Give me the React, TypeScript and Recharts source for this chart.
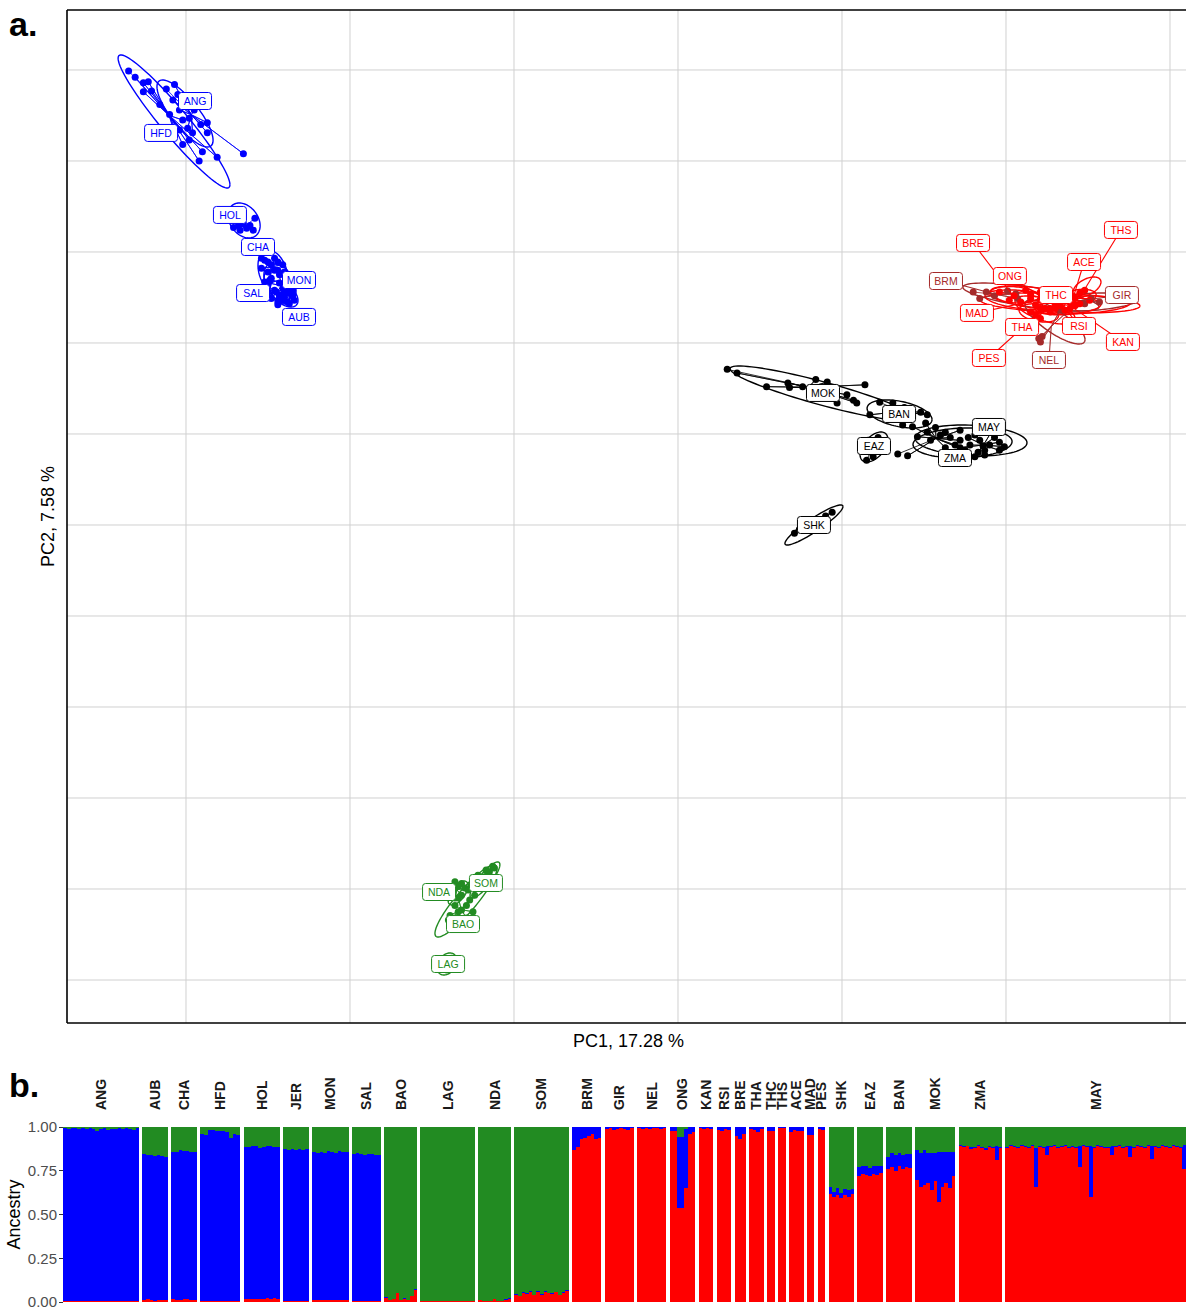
import React from 'react';
import {
  ScatterChart, Scatter, XAxis, YAxis, ReferenceLine,
  BarChart, Bar, ReferenceArea,
} from 'recharts';

const FONT = '"Liberation Sans", Arial, Helvetica, sans-serif';
const BLUE = '#0000FF';
const GREEN = '#228B22';
const BLACK = '#000000';
const RED = '#FF0000';
const BROWN = '#A52A2A';

// ---------------- PCA (panel a) : scores in grid units ----------------
const X_TICKS = [0, 1, 2, 3, 4, 5, 6];
const Y_TICKS = [0, 1, 2, 3, 4, 5, 6, 7, 8, 9, 10];
const X_DOMAIN = [-0.7256, 6.122];
const Y_DOMAIN = [-0.4725, 10.659];

const ANG_pc = [[-0.12, 9.79], [-0.07, 9.84], [-0.08, 9.67], [-0.04, 9.56], [0.02, 9.47], [0.13, 9.42], [0.13, 9.31], [0.04, 9.31], [0.35, 9.08], [-0.01, 9.62], [0.05, 9.56], [0.09, 9.40], [-0.05, 9.73], [0.01, 9.36]];
const HFD_pc = [[-0.35, 9.99], [-0.31, 9.92], [-0.26, 9.86], [-0.23, 9.87], [-0.26, 9.76], [-0.21, 9.77], [-0.02, 9.45], [-0.08, 9.37], [0.10, 9.10], [0.19, 9.04], [0.08, 9.00], [-0.02, 9.18], [-0.04, 9.34], [0.02, 9.23], [-0.10, 9.51], [-0.16, 9.62]];
const HOL_pc = [[0.42, 8.37], [0.29, 8.27], [0.33, 8.24], [0.37, 8.26], [0.41, 8.24], [0.35, 8.31], [0.32, 8.29], [0.39, 8.29]];
const CHA_pc = [[0.48, 7.91], [0.52, 7.86], [0.56, 7.89], [0.50, 7.78], [0.54, 7.80], [0.57, 7.75], [0.51, 7.69], [0.46, 7.82], [0.46, 7.93], [0.50, 7.89], [0.54, 7.93], [0.59, 7.86], [0.60, 7.78]];
const MON_pc = [[0.52, 7.71], [0.57, 7.66], [0.62, 7.60], [0.55, 7.56], [0.60, 7.52], [0.63, 7.69], [0.56, 7.80], [0.48, 7.67], [0.65, 7.58], [0.66, 7.64], [0.59, 7.47]];
const SAL_pc = [[0.50, 7.64], [0.54, 7.58], [0.57, 7.53], [0.52, 7.49], [0.59, 7.60], [0.49, 7.53], [0.56, 7.45], [0.62, 7.55]];
const AUB_pc = [[0.57, 7.49], [0.62, 7.45], [0.65, 7.52], [0.60, 7.58], [0.63, 7.43], [0.56, 7.42], [0.66, 7.47], [0.61, 7.64]];
const NDA_pc = [[1.62, 0.99], [1.66, 1.03], [1.68, 0.93], [1.64, 0.90], [1.70, 1.01], [1.64, 1.08], [1.68, 1.06], [1.60, 0.92]];
const SOM_pc = [[1.78, 1.15], [1.83, 1.21], [1.87, 1.25], [1.74, 1.04], [1.80, 1.10], [1.72, 0.99], [1.85, 1.19], [1.88, 1.23], [1.82, 1.13]];
const BAO_pc = [[1.64, 0.82], [1.68, 0.77], [1.73, 0.88], [1.61, 0.71], [1.71, 0.68], [1.76, 0.93], [1.66, 0.90], [1.60, 0.66], [1.66, 0.75], [1.71, 0.82], [1.75, 0.75], [1.64, 0.60]];
const LAG_pc = [[1.57, 0.22], [1.61, 0.16], [1.59, 0.11], [1.62, 0.24], [1.56, 0.15], [1.64, 0.20]];
const MOK_pc = [[3.30, 6.71], [3.36, 6.67], [3.54, 6.52], [3.67, 6.56], [3.68, 6.51], [3.84, 6.60], [3.91, 6.57], [3.76, 6.52], [3.97, 6.34], [4.03, 6.43], [4.07, 6.37], [4.14, 6.54], [4.09, 6.34]];
const BAN_pc = [[4.23, 6.35], [4.31, 6.34], [4.48, 6.24], [4.52, 6.21], [4.17, 6.21], [4.37, 6.10], [4.38, 6.29]];
const EAZ_pc = [[4.15, 5.71], [4.19, 5.75], [4.16, 5.93], [4.22, 5.96], [4.18, 5.80]];
const ZMA_pc = [[4.34, 5.78], [4.40, 5.76], [4.51, 6.12], [4.57, 6.07], [4.60, 5.99], [4.54, 5.93], [4.66, 5.96], [4.72, 5.93], [4.69, 5.88], [4.63, 5.85], [4.46, 5.97], [4.43, 6.08], [4.52, 6.02], [4.75, 5.82], [4.63, 6.02], [4.72, 6.04]];
const MAY_pc = [[4.78, 5.88], [4.84, 5.93], [4.90, 5.88], [4.87, 5.82], [4.81, 5.99], [4.93, 5.96], [4.96, 5.91], [4.72, 5.85], [4.83, 5.80], [4.91, 6.02], [4.99, 5.86], [4.77, 5.96], [4.86, 5.87], [4.87, 5.77], [4.81, 5.75], [4.96, 5.82]];
const SHK_pc = [[3.71, 4.91], [3.94, 5.14], [3.74, 4.95], [3.90, 5.10], [3.80, 5.01]];
const BRM_pc = [[4.80, 7.56], [4.84, 7.49], [4.88, 7.56], [5.01, 7.57], [5.06, 7.54], [5.07, 7.49], [4.93, 7.52]];
const NEL_pc = [[5.20, 7.05], [5.22, 7.07], [5.21, 7.01], [5.33, 7.36], [5.42, 7.42]];
const GIR_pc = [[5.39, 7.47], [5.48, 7.43], [5.57, 7.45], [5.33, 7.49], [5.52, 7.49]];
const BRE_pc = [[4.96, 7.56], [5.05, 7.52], [5.12, 7.58], [5.02, 7.47]];
const ONG_pc = [[5.15, 7.53], [5.24, 7.47], [5.21, 7.56], [5.30, 7.42]];
const ACE_pc = [[5.36, 7.53], [5.42, 7.49], [5.48, 7.58], [5.39, 7.45]];
const THS_pc = [[5.39, 7.49], [5.45, 7.55], [5.51, 7.47]];
const THC_pc = [[5.21, 7.47], [5.30, 7.44], [5.36, 7.49], [5.27, 7.38], [5.42, 7.42]];
const MAD_pc = [[5.09, 7.45], [5.18, 7.42], [5.15, 7.49]];
const THA_pc = [[5.21, 7.38], [5.27, 7.34], [5.18, 7.31], [5.33, 7.41]];
const RSI_pc = [[5.30, 7.38], [5.36, 7.36], [5.42, 7.41]];
const KAN_pc = [[5.33, 7.42], [5.39, 7.38], [5.45, 7.43]];
const PES_pc = [[5.15, 7.34], [5.21, 7.27], [5.24, 7.38]];

// ellipse summaries: centre, half-extent in x / y, correlation
const ELL_NAMES = ['HFD', 'ANG', 'HOL', 'CHA', 'MON', 'SAL', 'AUB', 'NDA', 'SOM', 'BAO', 'LAG', 'MOK', 'BAN', 'EAZ', 'ZMA', 'MAY', 'SHK', 'BRM', 'GIR', 'THC', 'ACE', 'ONG', 'THA', 'KAN', 'MAD', 'NEL', 'RSI', 'PES', 'BRE', 'THS'];
const ELL_CX = [-0.073, -0.006, 0.354, 0.530, 0.573, 0.555, 0.598, 1.659, 1.823, 1.707, 1.591, 3.881, 4.351, 4.195, 4.735, 4.787, 3.829, 5.152, 5.512, 5.329, 5.494, 5.177, 5.238, 5.421, 5.116, 5.299, 5.38, 5.20, 5.05, 5.45];
const ELL_CY = [9.434, 9.522, 8.346, 7.780, 7.659, 7.615, 7.538, 0.956, 1.099, 0.868, 0.176, 6.445, 6.220, 5.857, 5.901, 5.929, 5.000, 7.505, 7.451, 7.440, 7.615, 7.495, 7.363, 7.418, 7.473, 7.231, 7.40, 7.33, 7.53, 7.51];
const ELL_SX = [0.341, 0.171, 0.098, 0.091, 0.098, 0.079, 0.085, 0.061, 0.091, 0.189, 0.061, 0.564, 0.198, 0.085, 0.302, 0.341, 0.177, 0.415, 0.293, 0.488, 0.085, 0.274, 0.183, 0.335, 0.244, 0.183, 0.20, 0.12, 0.15, 0.10];
const ELL_SY = [0.731, 0.368, 0.192, 0.242, 0.220, 0.187, 0.143, 0.132, 0.198, 0.396, 0.121, 0.302, 0.154, 0.165, 0.165, 0.170, 0.220, 0.154, 0.099, 0.110, 0.110, 0.132, 0.154, 0.099, 0.110, 0.242, 0.09, 0.10, 0.09, 0.08];
const ELL_RHO = [-0.95, -0.8, -0.3, -0.3, -0.4, -0.5, -0.5, 0.6, 0.85, 0.9, 0.3, -0.9, -0.4, 0.5, 0.1, -0.15, 0.92, -0.7, 0.3, -0.3, 0.5, -0.5, -0.6, 0.2, -0.4, -0.8, 0.3, -0.3, -0.2, 0.2];

// repelled label positions (grid units)
const LABEL_NAMES = ['ANG', 'HFD', 'HOL', 'CHA', 'MON', 'SAL', 'AUB', 'NDA', 'SOM', 'BAO', 'LAG', 'MOK', 'BAN', 'EAZ', 'MAY', 'ZMA', 'SHK', 'BRE', 'BRM', 'ONG', 'ACE', 'THS', 'THC', 'GIR', 'MAD', 'THA', 'RSI', 'KAN', 'PES', 'NEL'];
const LABEL_X = [0.055, -0.152, 0.268, 0.439, 0.689, 0.409, 0.689, 1.543, 1.829, 1.689, 1.598, 3.884, 4.348, 4.195, 4.896, 4.689, 3.829, 4.799, 4.634, 5.024, 5.476, 5.701, 5.305, 5.707, 4.823, 5.098, 5.445, 5.713, 4.896, 5.262];
const LABEL_Y = [9.659, 9.308, 8.407, 8.055, 7.692, 7.549, 7.286, 0.967, 1.066, 0.615, 0.176, 6.451, 6.220, 5.868, 6.077, 5.736, 5.000, 8.099, 7.681, 7.736, 7.890, 8.242, 7.527, 7.527, 7.330, 7.176, 7.187, 7.011, 6.835, 6.813];

const pcaGroups = [
  { name: 'ANG', color: BLUE, pts: ANG_pc, leader: false },
  { name: 'HFD', color: BLUE, pts: HFD_pc, leader: false },
  { name: 'HOL', color: BLUE, pts: HOL_pc, leader: false },
  { name: 'CHA', color: BLUE, pts: CHA_pc, leader: false },
  { name: 'MON', color: BLUE, pts: MON_pc, leader: false },
  { name: 'SAL', color: BLUE, pts: SAL_pc, leader: false },
  { name: 'AUB', color: BLUE, pts: AUB_pc, leader: false },
  { name: 'NDA', color: GREEN, pts: NDA_pc, leader: false },
  { name: 'SOM', color: GREEN, pts: SOM_pc, leader: false },
  { name: 'BAO', color: GREEN, pts: BAO_pc, leader: false },
  { name: 'LAG', color: GREEN, pts: LAG_pc, leader: false },
  { name: 'MOK', color: BLACK, pts: MOK_pc, leader: false },
  { name: 'BAN', color: BLACK, pts: BAN_pc, leader: false },
  { name: 'EAZ', color: BLACK, pts: EAZ_pc, leader: false },
  { name: 'ZMA', color: BLACK, pts: ZMA_pc, leader: false },
  { name: 'MAY', color: BLACK, pts: MAY_pc, leader: false },
  { name: 'SHK', color: BLACK, pts: SHK_pc, leader: false },
  { name: 'BRM', color: BROWN, pts: BRM_pc, leader: true },
  { name: 'NEL', color: BROWN, pts: NEL_pc, leader: true },
  { name: 'GIR', color: BROWN, pts: GIR_pc, leader: true },
  { name: 'BRE', color: RED, pts: BRE_pc, leader: true },
  { name: 'ONG', color: RED, pts: ONG_pc, leader: true },
  { name: 'ACE', color: RED, pts: ACE_pc, leader: true },
  { name: 'THS', color: RED, pts: THS_pc, leader: true },
  { name: 'THC', color: RED, pts: THC_pc, leader: true },
  { name: 'MAD', color: RED, pts: MAD_pc, leader: true },
  { name: 'THA', color: RED, pts: THA_pc, leader: true },
  { name: 'RSI', color: RED, pts: RSI_pc, leader: true },
  { name: 'KAN', color: RED, pts: KAN_pc, leader: true },
  { name: 'PES', color: RED, pts: PES_pc, leader: true },
];

// ---------------- ADMIXTURE (panel b), % per individual ----------------
const ANG_red = [0.5, 0.5, 0.5, 0.5, 0.5, 0.5, 0.5, 0.5, 0.5, 0.5, 0.5, 0.5, 0.5, 0.5, 0.5, 0.5, 0.5, 0.5, 0.5, 0.5, 0.5];
const ANG_blue = [99, 98.5, 99, 99, 98.5, 99, 98.5, 99, 98.5, 97.5, 98.5, 99, 98, 98.5, 98.5, 99, 98.5, 99, 98.5, 98, 99];
const AUB_red = [1, 1.5, 1, 0.5, 1, 1, 1];
const AUB_blue = [83.5, 82.5, 83, 83, 83, 82.5, 82];
const CHA_red = [1.5, 1, 1, 2, 1.5, 1, 1];
const CHA_blue = [84.5, 85, 86, 84.5, 85, 85, 84.5];
const HFD_red = [0.5, 0.5, 0.5, 0.5, 0.5, 0.5, 0.5, 0.5, 0.5, 0.5, 0.5];
const HFD_blue = [95.5, 95, 98, 98, 97.5, 97, 97, 96.5, 93.5, 95.5, 95];
const HOL_red = [1.5, 2, 2, 1.5, 2, 1.5, 2.5, 2, 2.5, 1.5];
const HOL_blue = [87, 86.5, 87, 87.5, 86, 87, 86.5, 87, 86, 87];
const JER_red = [0.5, 0.5, 0.5, 0.5, 0.5, 0.5, 0.5];
const JER_blue = [87, 86.5, 87, 86.5, 87, 86.5, 87];
const MON_red = [1, 1, 1, 1, 1, 1, 1, 1, 1, 1];
const MON_blue = [84.5, 84, 85, 84, 85.5, 84.5, 84, 85.5, 85, 84.5];
const SAL_red = [0.5, 0.5, 0.5, 0.5, 0.5, 0.5, 0.5, 0.5];
const SAL_blue = [84, 84.5, 84, 83.5, 84, 84, 83.5, 83.5];
const BAO_red = [2.5, 1, 1.5, 5, 1, 2, 1, 3.5, 7];
const BAO_blue = [0.5, 0, 0.5, 0, 0, 0.5, 0, 0, 0.3];
const LAG_red = [0.5, 0.5, 0.5, 0.5, 0.5, 0.5, 0.5, 0.5, 0.5, 0.5, 0.5, 0.5, 0.5, 0.5, 0.5];
const LAG_blue = [0, 0, 0, 0, 0, 0, 0, 0, 0, 0, 0, 0, 0, 0, 0];
const NDA_red = [1, 0.5, 0.5, 0.5, 1.5, 0.5, 0.5, 1, 2];
const NDA_blue = [0, 0, 0, 0, 0.5, 0, 0, 0.5, 0.5];
const SOM_red = [4, 3.5, 5, 4.5, 6, 4, 5.5, 4, 6, 5, 4.5, 5.5, 4, 5, 6.5];
const SOM_blue = [0.5, 0, 0.5, 0.5, 0.5, 0, 1, 0.5, 0.5, 0, 0.5, 0.5, 0, 0.5, 0.5];
const BRM_red = [87, 88.5, 93, 94, 95, 96, 93, 94];
const BRM_blue = [13, 11.5, 7, 6, 5, 4, 7, 6];
const GIR_red = [99, 99.5, 98.5, 99, 99.5, 99, 98.5, 99.5];
const GIR_blue = [1, 0.5, 1.5, 1, 0.5, 1, 1.5, 0.5];
const NEL_red = [99.5, 99, 99.5, 99, 99.5, 99.5, 99, 99.5];
const NEL_blue = [0.5, 1, 0.5, 1, 0.5, 0.5, 1, 0.5];
const ONG_red = [98, 97.5, 53.8, 53.8, 65, 96, 97];
const ONG_blue = [2, 2.5, 40.5, 40.5, 34, 4, 3];
const KAN_red = [99.5, 99, 99.5, 99];
const KAN_blue = [0.5, 1, 0.5, 1];
const RSI_red = [98.5, 98, 99, 98.5];
const RSI_blue = [1.5, 2, 1, 1.5];
const BRE_red = [95, 93, 96];
const BRE_blue = [5, 7, 4];
const THA_red = [99, 98.5, 97, 99];
const THA_blue = [1, 1.5, 3, 1];
const THC_red = [98, 97.5];
const THC_blue = [2, 2.5];
const THS_red = [99.5, 99.5];
const THS_blue = [0.5, 0.5];
const ACE_red = [97, 98.5, 97.5, 98];
const ACE_blue = [3, 1.5, 2.5, 2];
const MAD_red = [95.5, 95.5];
const MAD_blue = [4.5, 4.5];
const PES_red = [99, 98.5];
const PES_blue = [1, 1.5];
const SHK_red = [62, 60, 61, 59.5, 61, 60, 62];
const SHK_blue = [3.5, 3, 4, 3, 3.5, 4, 2.5];
const EAZ_red = [72, 73, 72.5, 72, 73, 72.5, 73.5];
const EAZ_blue = [5, 4.5, 5.5, 4.5, 5, 5, 4];
const BAN_red = [76, 77, 75, 78, 76, 77, 76.5];
const BAN_blue = [7, 8, 9, 7, 8, 7.5, 8];
const MOK_red = [70, 66, 67, 68, 64, 69, 57, 66, 68, 65, 72];
const MOK_blue = [17, 19, 20, 17, 21, 16, 29, 20, 18, 21, 14];
const ZMA_red = [89, 88.5, 89, 87.5, 88, 89, 88, 87, 88.5, 88, 81, 88];
const ZMA_blue = [0.5, 0.5, 0.3, 1, 0.5, 0.5, 0.5, 1, 0.5, 0.5, 8, 0.5];
const MAY_red = [88, 89, 88.5, 88, 89, 88.5, 88, 89, 66, 88.5, 88, 84, 88.5, 89, 88, 88.5, 89, 88, 88.5, 88, 77, 89, 88.5, 60, 88, 89, 88.5, 88, 88, 84, 88.5, 89, 88, 88.5, 83, 88, 89, 88.5, 88, 89, 82, 88.5, 88, 89, 88.5, 88, 89, 88.5, 88, 76];
const MAY_blue = [0.5, 0.5, 0.5, 0.5, 0.5, 0.5, 0.5, 0.5, 22, 0.5, 0.5, 5, 0.5, 0.5, 0.5, 0.5, 0.5, 0.5, 0.5, 0.5, 12, 0.5, 0.5, 29, 0.5, 0.5, 0.5, 0.5, 0.5, 5, 0.5, 0.5, 0.5, 0.5, 6, 0.5, 0.5, 0.5, 0.5, 0.5, 7, 0.5, 0.5, 0.5, 0.5, 0.5, 0.5, 0.5, 0.5, 14];

const admixGroups: [string, number[], number[]][] = [
  ['ANG', ANG_red, ANG_blue], ['AUB', AUB_red, AUB_blue], ['CHA', CHA_red, CHA_blue],
  ['HFD', HFD_red, HFD_blue], ['HOL', HOL_red, HOL_blue], ['JER', JER_red, JER_blue],
  ['MON', MON_red, MON_blue], ['SAL', SAL_red, SAL_blue], ['BAO', BAO_red, BAO_blue],
  ['LAG', LAG_red, LAG_blue], ['NDA', NDA_red, NDA_blue], ['SOM', SOM_red, SOM_blue],
  ['BRM', BRM_red, BRM_blue], ['GIR', GIR_red, GIR_blue], ['NEL', NEL_red, NEL_blue],
  ['ONG', ONG_red, ONG_blue], ['KAN', KAN_red, KAN_blue], ['RSI', RSI_red, RSI_blue],
  ['BRE', BRE_red, BRE_blue], ['THA', THA_red, THA_blue], ['THC', THC_red, THC_blue],
  ['THS', THS_red, THS_blue], ['ACE', ACE_red, ACE_blue], ['MAD', MAD_red, MAD_blue],
  ['PES', PES_red, PES_blue], ['SHK', SHK_red, SHK_blue], ['EAZ', EAZ_red, EAZ_blue],
  ['BAN', BAN_red, BAN_blue], ['MOK', MOK_red, MOK_blue], ['ZMA', ZMA_red, ZMA_blue],
  ['MAY', MAY_red, MAY_blue],
];
const ANCESTRY_TICKS = [0, 0.25, 0.5, 0.75, 1];

// ---------------- derived tables ----------------
const toPts = (arr: number[][]) => arr.map(([x, y]) => ({ x, y }));
const centroid = (arr: number[][]) => ({
  x: arr.reduce((s, p) => s + p[0], 0) / arr.length,
  y: arr.reduce((s, p) => s + p[1], 0) / arr.length,
});
const colorOf = (name: string) => (pcaGroups.find((g) => g.name === name) || { color: BLACK }).color;

const ellipseOutline = (i: number) => {
  const out: { x: number; y: number }[] = [];
  const r = ELL_RHO[i];
  const k = Math.sqrt(1 - r * r);
  for (let j = 0; j <= 90; j++) {
    const t = (j / 90) * Math.PI * 2;
    out.push({ x: ELL_CX[i] + ELL_SX[i] * Math.cos(t), y: ELL_CY[i] + ELL_SY[i] * (r * Math.cos(t) + k * Math.sin(t)) });
  }
  return out;
};

const labelRows = LABEL_NAMES.map((n, i) => ({ x: LABEL_X[i], y: LABEL_Y[i], name: n, color: colorOf(n) }));

const barRows: any[] = [];
const facetRanges: { name: string; first: string; last: string }[] = [];
admixGroups.forEach(([name, red, blue], gi) => {
  if (gi > 0) barRows.push({ key: `gap${gi}`, red: 0, blue: 0, green: 0 });
  red.forEach((r, i) => {
    const b = blue[i];
    barRows.push({ key: `${name}${i}`, red: r / 100, blue: b / 100, green: Math.max(0, 100 - r - b) / 100 });
  });
  facetRanges.push({ name, first: `${name}0`, last: `${name}${red.length - 1}` });
});

// ---------------- renderers ----------------
const noShape = () => <g />;
const dotShape = (color: string) => (p: any) => <circle cx={p.cx} cy={p.cy} r={3.5} fill={color} />;
const LabelBox = (p: any) => {
  const { cx, cy, payload } = p;
  const w = 33;
  const h = 17;
  return (
    <g>
      <rect x={cx - w / 2} y={cy - h / 2} width={w} height={h} rx={3} ry={3} fill="#ffffff" stroke={payload.color} strokeWidth={1} />
      <text x={cx} y={cy} dy="0.36em" textAnchor="middle" fontSize={10.5} fill={payload.color} fontFamily={FONT}>{payload.name}</text>
    </g>
  );
};

const PcaPanel = () => (
  <ScatterChart width={1200} height={1060} margin={{ top: 10, right: 10, bottom: 0, left: 10 }}>
    <XAxis
      type="number" dataKey="x" domain={X_DOMAIN} ticks={X_TICKS} allowDataOverflow
      tick={false} tickLine={false} height={37}
      axisLine={{ stroke: '#000', strokeWidth: 1.6 }}
      label={{
        content: (p: any) => (
          <text x={p.viewBox.x + p.viewBox.width / 2} y={p.viewBox.y + 18} dy="0.35em" textAnchor="middle" fontSize={18} fill="#000" fontFamily={FONT}>PC1, 17.28 %</text>
        ),
      }}
    />
    <YAxis
      type="number" dataKey="y" domain={Y_DOMAIN} ticks={Y_TICKS} allowDataOverflow
      tick={false} tickLine={false} width={57}
      axisLine={{ stroke: '#000', strokeWidth: 1.6 }}
      label={{
        content: (p: any) => {
          const x = p.viewBox.x + p.viewBox.width - 19;
          const y = p.viewBox.y + p.viewBox.height / 2;
          return <text x={x} y={y} dy="0.35em" transform={`rotate(-90 ${x} ${y})`} textAnchor="middle" fontSize={18} fill="#000" fontFamily={FONT}>PC2, 7.58 %</text>;
        },
      }}
    />
    {X_TICKS.map((t) => <ReferenceLine key={`gx${t}`} x={t} stroke="#d0d0d0" strokeWidth={1} />)}
    {Y_TICKS.map((t) => <ReferenceLine key={`gy${t}`} y={t} stroke="#d0d0d0" strokeWidth={1} />)}
    <ReferenceLine y={Y_DOMAIN[1]} stroke="#000" strokeWidth={1.6} />
    {ELL_NAMES.map((n, i) => (
      <Scatter key={`ell-${n}-${i}`} data={ellipseOutline(i)} shape={noShape} line={{ stroke: colorOf(n), strokeWidth: 1.4, fill: 'none' }} isAnimationActive={false} legendType="none" />
    ))}
    {pcaGroups.map((g) => {
      const c = centroid(g.pts);
      const spider = g.pts.flatMap(([x, y]) => [{ x, y }, c]);
      return (
        <Scatter key={`sp-${g.name}`} data={spider} shape={noShape} line={{ stroke: g.color, strokeWidth: 0.8, fill: 'none' }} isAnimationActive={false} legendType="none" />
      );
    })}
    {pcaGroups.map((g) => (
      <Scatter key={`pt-${g.name}`} data={toPts(g.pts)} shape={dotShape(g.color)} isAnimationActive={false} legendType="none" />
    ))}
    {pcaGroups.filter((g) => g.leader).map((g) => {
      const c = centroid(g.pts);
      const lab = labelRows.find((l) => l.name === g.name)!;
      return (
        <Scatter key={`ld-${g.name}`} data={[c, { x: lab.x, y: lab.y }]} shape={noShape} line={{ stroke: g.color, strokeWidth: 1.1, fill: 'none' }} isAnimationActive={false} legendType="none" />
      );
    })}
    <Scatter data={labelRows} shape={LabelBox} isAnimationActive={false} legendType="none" />
  </ScatterChart>
);

const AdmixPanel = () => (
  <div style={{ shapeRendering: 'crispEdges' } as any}>
    <BarChart width={1186} height={247} data={barRows} margin={{ top: 67, right: 0, bottom: 5, left: 0 }} barCategoryGap={0} barGap={0}>
      <XAxis dataKey="key" hide />
      <YAxis
        domain={[0, 1]} ticks={ANCESTRY_TICKS} width={63} axisLine={false} interval={0}
        tickFormatter={(v: number) => v.toFixed(2)} tickSize={4} tickMargin={2}
        tickLine={{ stroke: '#333333' }}
        tick={{ fill: '#4d4d4d', fontSize: 15, fontFamily: FONT }}
        label={{
          content: (p: any) => {
            const x = 14;
            const y = p.viewBox.y + p.viewBox.height / 2;
            return <text x={x} y={y} dy="0.35em" transform={`rotate(-90 ${x} ${y})`} textAnchor="middle" fontSize={18} fill="#000" fontFamily={FONT}>Ancestry</text>;
          },
        }}
      />
      <Bar dataKey="red" stackId="a" fill={RED} isAnimationActive={false} />
      <Bar dataKey="blue" stackId="a" fill={BLUE} isAnimationActive={false} />
      <Bar dataKey="green" stackId="a" fill={GREEN} isAnimationActive={false} />
      {facetRanges.map((f) => (
        <ReferenceArea
          key={`fa-${f.name}`} x1={f.first} x2={f.last} fill="none" fillOpacity={0} stroke="none"
          label={{
            content: (p: any) => {
              const vb = p.viewBox;
              const x = vb.x + vb.width / 2;
              const y = vb.y - 17;
              return <text x={x} y={y} dy="0.36em" transform={`rotate(-90 ${x} ${y})`} textAnchor="start" fontSize={14} fontWeight="bold" fill="#1a1a1a" fontFamily={FONT}>{f.name}</text>;
            },
          }}
        />
      ))}
    </BarChart>
  </div>
);

export default function App() {
  return (
    <div style={{ position: 'absolute', left: 0, top: 0, width: 1186, height: 1307, overflow: 'hidden', background: '#fff', fontFamily: FONT }}>
      <div style={{ position: 'absolute', left: 0, top: 0 }}>
        <PcaPanel />
      </div>
      <div style={{ position: 'absolute', left: 0, top: 1060 }}>
        <AdmixPanel />
      </div>
      <div style={{ position: 'absolute', left: 9, top: 7, fontSize: 34, lineHeight: '34px', fontWeight: 'bold', color: '#000' }}>a.</div>
      <div style={{ position: 'absolute', left: 9, top: 1068, fontSize: 34, lineHeight: '34px', fontWeight: 'bold', color: '#000' }}>b.</div>
    </div>
  );
}
